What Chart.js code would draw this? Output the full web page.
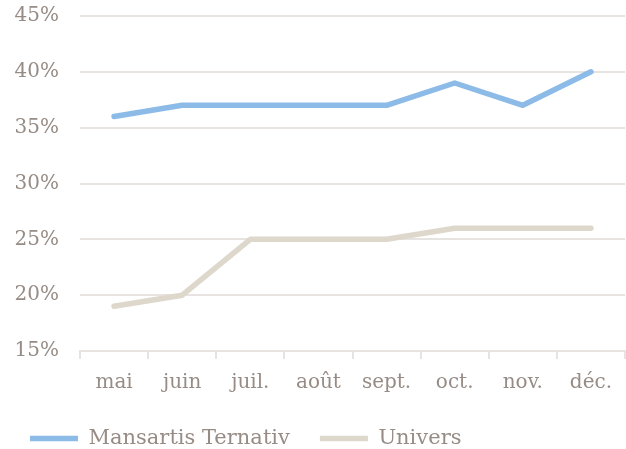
<!DOCTYPE html>
<html>
<head>
<meta charset="utf-8">
<script src="https://cdn.jsdelivr.net/npm/chart.js@4"></script>
<style>
  html, body { margin: 0; padding: 0; background: #fff; }
  #wrap { width: 626px; height: 449px; }
</style>
</head>
<body>
<div id="wrap"><canvas id="chart"></canvas></div>
<script>
// Values (percent)
const months = ['mai', 'juin', 'juil.', 'août', 'sept.', 'oct.', 'nov.', 'déc.'];
const mansartis = [36, 37, 37, 37, 37, 39, 37, 40];
const univers = [19, 20, 25, 25, 25, 26, 26, 26];

const textColor = '#978c85';
const gridColor = '#e6e3e0';
const fontFamily = '"DejaVu Serif", "Liberation Serif", serif';

const lineDataset = (label, data, color) => ({
  label: label,
  data: data,
  borderColor: color,
  backgroundColor: color,
  borderWidth: 5.5,
  borderCapStyle: 'round',
  borderJoinStyle: 'round',
  pointRadius: 0,
  pointStyle: 'line',
  tension: 0,
  fill: false
});

new Chart(document.getElementById('chart'), {
  type: 'line',
  data: {
    labels: months,
    datasets: [
      lineDataset('Mansartis Ternativ', mansartis, '#8dbbe8'),
      lineDataset('Univers', univers, '#ddd7cc')
    ]
  },
  options: {
    responsive: true,
    maintainAspectRatio: false,
    animation: false,
    layout: { padding: { top: 16, right: 1, left: 0, bottom: -10 } },
    font: { family: fontFamily },
    plugins: {
      tooltip: { enabled: false },
      legend: {
        position: 'bottom',
        align: 'start',
        labels: {
          usePointStyle: true,
          pointStyleWidth: 48,
          boxHeight: 5,
          padding: 30,
          color: textColor,
          font: { family: fontFamily, size: 21 }
        }
      }
    },
    scales: {
      x: {
        offset: true,
        afterFit: (scale) => {
          scale.height = 47;
          scale.paddingLeft = 0;
          scale.paddingRight = 0;
        },
        grid: {
          offset: true,
          drawOnChartArea: false,
          drawTicks: true,
          tickLength: 8,
          color: gridColor,
          lineWidth: 2
        },
        border: { display: true, color: gridColor, width: 2 },
        ticks: {
          color: textColor,
          padding: 12,
          font: { family: fontFamily, size: 20 }
        }
      },
      y: {
        min: 15,
        max: 45,
        afterFit: (scale) => {
          scale.width = 80;
          scale.paddingTop = 0;
          scale.paddingBottom = 0;
        },
        grid: { drawTicks: false, color: gridColor, lineWidth: 2 },
        border: { display: false },
        ticks: {
          stepSize: 5,
          padding: 21,
          color: textColor,
          font: { family: fontFamily, size: 20 },
          callback: (value) => value + '%'
        }
      }
    }
  }
});
</script>
</body>
</html>
